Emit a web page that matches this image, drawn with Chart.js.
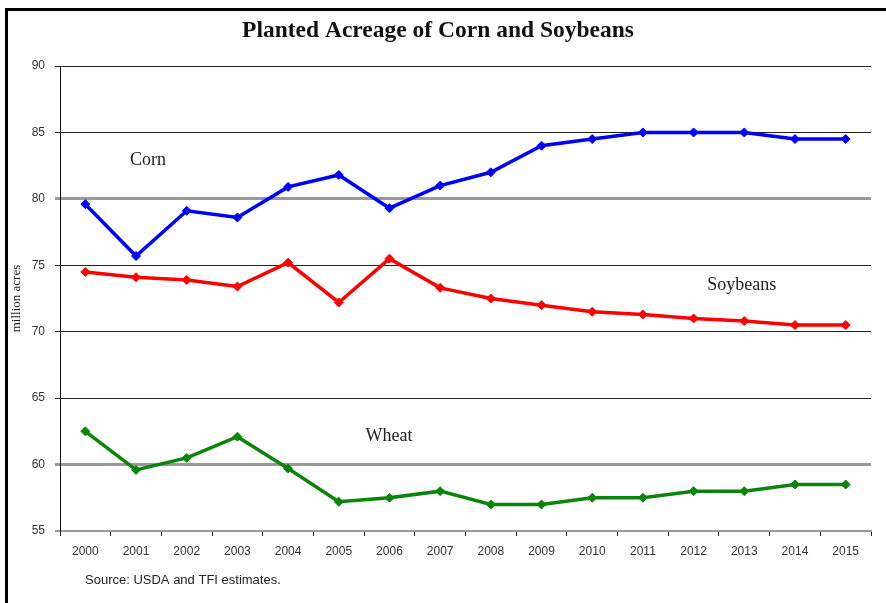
<!DOCTYPE html>
<html>
<head>
<meta charset="utf-8">
<script src="https://cdn.jsdelivr.net/npm/chart.js@4/dist/chart.umd.min.js"></script>
<style>
  html, body { margin: 0; padding: 0; background: #fff; }
  #wrap { width: 886px; height: 603px; position: relative; }
</style>
</head>
<body>
<div id="wrap"><canvas id="c" width="886" height="603"></canvas></div>
<script>
// Planted acreage, million acres
const years = ['2000','2001','2002','2003','2004','2005','2006','2007','2008','2009','2010','2011','2012','2013','2014','2015'];
const corn     = [79.6, 75.7, 79.1, 78.6, 80.9, 81.8, 79.3, 81.0, 82.0, 84.0, 84.5, 85.0, 85.0, 85.0, 84.5, 84.5];
const soybeans = [74.5, 74.1, 73.9, 73.4, 75.2, 72.2, 75.5, 73.3, 72.5, 72.0, 71.5, 71.3, 71.0, 70.8, 70.5, 70.5];
const wheat    = [62.5, 59.6, 60.5, 62.1, 59.7, 57.2, 57.5, 58.0, 57.0, 57.0, 57.5, 57.5, 58.0, 58.0, 58.5, 58.5];
const yTicks   = [55, 60, 65, 70, 75, 80, 85, 90];

// Series names written inside the plot, anchored to a year and a value
const seriesLabels = [
  { text: 'Corn',     year: '2001', value: 82.9, dx: -6 },
  { text: 'Soybeans', year: '2013', value: 73.5, dx: -37 },
  { text: 'Wheat',    year: '2006', value: 62.1, dx: -24 }
];

const SERIF = '"Liberation Serif", "Times New Roman", serif';
const SANS  = '"Liberation Sans", Arial, sans-serif';

// Frame, title, series names and source note
const decor = {
  id: 'decor',
  afterDraw(chart) {
    const ctx = chart.ctx;
    const xs = chart.scales.x, ys = chart.scales.y;
    ctx.save();
    // frame edges
    ctx.fillStyle = '#000';
    ctx.fillRect(5, 8, 3, 603 - 8);
    ctx.fillRect(5, 8, 886 - 5, 3);

    // title
    ctx.fillStyle = '#111';
    ctx.font = 'bold 23.5px ' + SERIF;
    ctx.textAlign = 'center';
    ctx.textBaseline = 'middle';
    ctx.fillText('Planted Acreage of Corn and Soybeans', 438, 31);

    // series names
    ctx.font = '18px ' + SERIF;
    ctx.fillStyle = '#222';
    ctx.textAlign = 'left';
    seriesLabels.forEach(l => {
      const px = xs.getPixelForValue(years.indexOf(l.year));
      const py = ys.getPixelForValue(l.value);
      ctx.fillText(l.text, px + l.dx, py);
    });

    // source note
    ctx.font = '13px ' + SANS;
    ctx.fillStyle = '#222';
    ctx.fillText('Source: USDA and TFI estimates.', 85, 580);
    ctx.restore();
  }
};

const lineStyle = (color) => ({
  borderColor: color,
  backgroundColor: color,
  borderWidth: 3.5,
  pointStyle: 'rectRot',
  pointRadius: 4.5,
  pointHoverRadius: 4.5,
  pointBorderWidth: 1,
  tension: 0,
  fill: false
});

new Chart(document.getElementById('c'), {
  type: 'line',
  data: {
    labels: years,
    datasets: [
      Object.assign({ label: 'Corn', data: corn }, lineStyle('#0000ff')),
      Object.assign({ label: 'Soybeans', data: soybeans }, lineStyle('#ff0000')),
      Object.assign({ label: 'Wheat', data: wheat }, lineStyle('#0a850a'))
    ]
  },
  options: {
    responsive: false,
    animation: false,
    devicePixelRatio: 1,
    layout: { padding: { top: 66, right: 15, left: 0, bottom: 0 } },
    plugins: {
      legend: { display: false },
      title: { display: false },
      tooltip: { enabled: false }
    },
    scales: {
      x: {
        type: 'category',
        offset: true,
        afterFit(s) { s.height = 72; },
        grid: {
          offset: true,
          drawOnChartArea: false,
          drawTicks: true,
          tickLength: 5,
          color: '#222',
          lineWidth: 1
        },
        border: { display: true, color: '#999', width: 2 },
        ticks: {
          color: '#333',
          font: { family: SANS, size: 12 },
          padding: 8,
          maxRotation: 0,
          autoSkip: false
        }
      },
      y: {
        min: 55,
        max: 90,
        afterFit(s) { s.width = 60; },
        afterBuildTicks(s) { s.ticks = yTicks.map(v => ({ value: v })); },
        grid: {
          drawTicks: true,
          tickLength: 5,
          color: (c) => {
            const v = c.tick && c.tick.value;
            return (v === 80 || v === 60 || v === 55) ? '#999' : '#222';
          },
          lineWidth: (c) => {
            const v = c.tick && c.tick.value;
            return (v === 80 || v === 60) ? 3 : (v === 55 ? 2 : 1);
          }
        },
        border: { display: true, color: '#111', width: 1 },
        ticks: {
          color: '#333',
          font: { family: SANS, size: 12 },
          padding: 10
        },
        title: {
          display: true,
          text: 'million acres',
          color: '#222',
          font: { family: SERIF, size: 13 },
          padding: { top: 9, bottom: 0 }
        }
      }
    }
  },
  plugins: [decor]
});
</script>
</body>
</html>
